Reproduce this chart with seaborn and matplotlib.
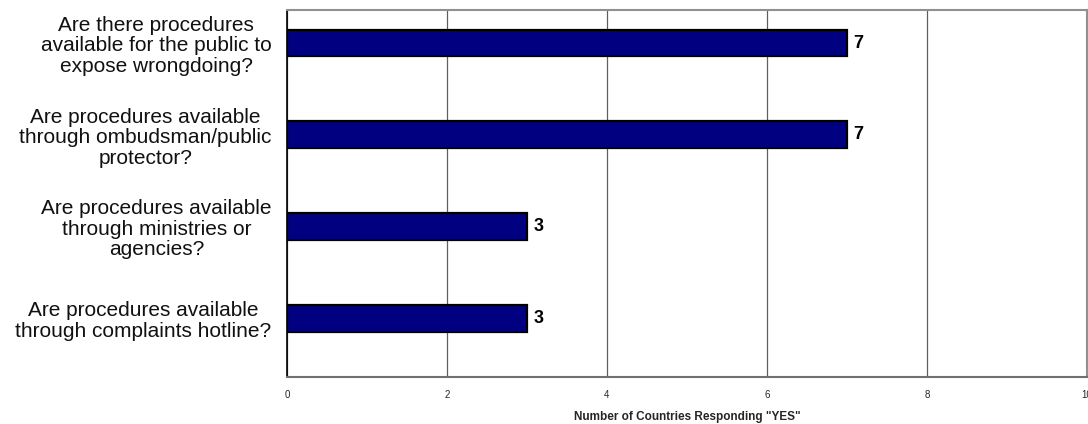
import matplotlib
matplotlib.use("Agg")
import matplotlib.pyplot as plt
import seaborn as sns
import pandas as pd

questions = [
    "Are there procedures\navailable for the public to\nexpose wrongdoing?",
    "Are procedures available\nthrough ombudsman/public\nprotector?",
    "Are procedures available\nthrough ministries or\nagencies?",
    "Are procedures available\nthrough complaints hotline?",
]
yes_counts = [7, 7, 3, 3]
x_ticks = [0, 2, 4, 6, 8, 10]
x_label = 'Number of Countries Responding "YES"'

df = pd.DataFrame({"question": questions, "count": yes_counts})

sns.set_theme(style="white")
plt.rcParams["font.family"] = ["Liberation Sans", "DejaVu Sans"]

fig = plt.figure(figsize=(10.88, 4.24), dpi=100)
ax = fig.add_axes([287 / 1088, 1 - 377 / 424, 800 / 1088, 367 / 424])

sns.barplot(data=df, x="count", y="question", orient="h", ax=ax,
            color="#000080", saturation=1, width=0.29,
            edgecolor="black", linewidth=1.6, zorder=3)

ax.set_xlim(0, 10)
ax.set_ylim(3.64, -0.36)
ax.set_xticks(x_ticks)
ax.set_xticklabels([str(t) for t in x_ticks], fontsize=7)
ax.tick_params(axis="x", length=0, pad=9)
ax.tick_params(axis="y", length=0, pad=11)
for lbl in ax.get_yticklabels():
    lbl.set_fontsize(15)
    lbl.set_multialignment("center")
    lbl.set_linespacing(1.1)
    lbl.set_color("#111111")

ax.xaxis.grid(True, color="#606060", linewidth=0.9, zorder=0)
ax.yaxis.grid(False)
ax.set_axisbelow(True)

for side in ["top", "right"]:
    ax.spines[side].set_color("#909090")
    ax.spines[side].set_linewidth(1.5)
ax.spines["bottom"].set_color("#707070")
ax.spines["bottom"].set_linewidth(1.5)
ax.spines["left"].set_color("black")
ax.spines["left"].set_linewidth(1.2)

for i, v in enumerate(yes_counts):
    ax.text(v + 0.08, i, str(v), va="center", ha="left",
            fontsize=13, fontweight="bold", color="black")

ax.set_xlabel(x_label, fontsize=8.5, fontweight="bold", labelpad=8)
ax.set_ylabel("")

fig.savefig("out.png", dpi=100)
